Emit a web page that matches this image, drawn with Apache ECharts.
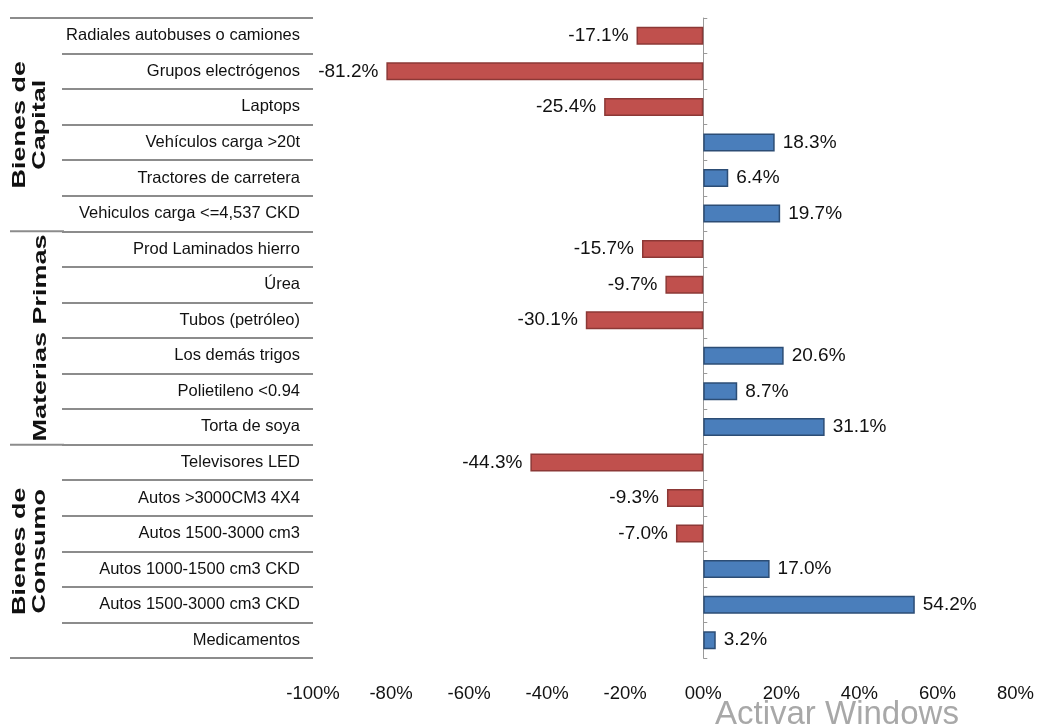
<!DOCTYPE html>
<html>
<head>
<meta charset="utf-8">
<script src="https://cdn.jsdelivr.net/npm/echarts@6/dist/echarts.min.js"></script>
<style>
  html, body { margin: 0; padding: 0; background: #ffffff; }
  #chart { width: 1037px; height: 724px; }
</style>
</head>
<body>
<div id="chart"></div>
<script>
// ---- Data ----
const categories = [
  'Radiales autobuses o camiones',
  'Grupos electrógenos',
  'Laptops',
  'Vehículos carga >20t',
  'Tractores de carretera',
  'Vehiculos carga <=4,537 CKD',
  'Prod Laminados hierro',
  'Úrea',
  'Tubos (petróleo)',
  'Los demás trigos',
  'Polietileno <0.94',
  'Torta de soya',
  'Televisores LED',
  'Autos >3000CM3 4X4',
  'Autos 1500-3000 cm3',
  'Autos 1000-1500 cm3 CKD',
  'Autos 1500-3000 cm3 CKD',
  'Medicamentos'
];
const values = [-17.1, -81.2, -25.4, 18.3, 6.4, 19.7, -15.7, -9.7, -30.1, 20.6, 8.7, 31.1, -44.3, -9.3, -7.0, 17.0, 54.2, 3.2];
const groupNames = [['Bienes de', 'Capital'], ['Materias Primas'], ['Bienes de', 'Consumo']];
const groupSizes = [6, 6, 6];
const xTicks = { min: -100, max: 80, step: 20 };

// ---- Styles ----
const FONT = "'Liberation Sans', Arial, sans-serif";
const RED = '#c0504d', RED_B = '#8c3836';
const BLUE = '#4a7ebb', BLUE_B = '#2c4d75';
const LINE = '#8c8c8c';

const chart = echarts.init(document.getElementById('chart'));

const seriesData = values.map(v => ({
  value: v,
  itemStyle: { color: v < 0 ? RED : BLUE, borderColor: v < 0 ? RED_B : BLUE_B },
  label: { position: v < 0 ? 'left' : 'right' }
}));

chart.setOption({
  animation: false,
  backgroundColor: '#ffffff',
  grid: { left: 313, right: 20, top: 18, bottom: 66, containLabel: false },
  xAxis: {
    type: 'value',
    min: xTicks.min, max: xTicks.max, interval: xTicks.step,
    axisLine: { show: false },
    axisTick: { show: false },
    splitLine: { show: false },
    axisLabel: {
      margin: 26,
      fontFamily: FONT, fontSize: 18.5, color: '#111',
      formatter: v => (v === 0 ? '00%' : v + '%')
    }
  },
  yAxis: [
    {
      type: 'category',
      data: categories,
      inverse: true,
      position: 'left',
      axisLine: { show: false, onZero: false },
      axisTick: { show: true, length: 251, lineStyle: { color: LINE, width: 2 } },
      axisLabel: { margin: 13, fontFamily: FONT, fontSize: 16.5, color: '#111', interval: 0 }
    },
    {
      type: 'category',
      data: categories,
      inverse: true,
      position: 'right',
      axisLine: { show: true, onZero: true, lineStyle: { color: '#9a9a9a', width: 1 } },
      axisTick: { show: true, length: 4, lineStyle: { color: '#9a9a9a' } },
      axisLabel: { show: false }
    }
  ],
  series: [{
    type: 'bar',
    yAxisIndex: 0,
    barWidth: 18,
    data: seriesData,
    itemStyle: { borderWidth: 1.5 },
    label: {
      show: true,
      distance: 8,
      fontFamily: FONT, fontSize: 19, color: '#111',
      formatter: p => p.value.toFixed(1) + '%'
    }
  }]
});

// ---- Group separators and labels (positions from the category axis) ----
function drawGroups() {
  const y0 = chart.convertToPixel({ yAxisIndex: 0 }, categories[0]);
  const y1 = chart.convertToPixel({ yAxisIndex: 0 }, categories[1]);
  const band = y1 - y0;
  const elements = [];
  let start = 0;
  const bounds = [y0 - band / 2];
  groupSizes.forEach((n, gi) => {
    const last = chart.convertToPixel({ yAxisIndex: 0 }, categories[start + n - 1]);
    const top = chart.convertToPixel({ yAxisIndex: 0 }, categories[start]) - band / 2;
    const bottom = last + band / 2;
    bounds.push(bottom);
    const cy = (top + bottom) / 2;
    const lines = groupNames[gi];
    lines.forEach((txt, li) => {
      const cx = lines.length === 1 ? 41 : 20 + li * 20;
      elements.push({
        type: 'text',
        x: cx, y: cy,
        rotation: Math.PI / 2,
        scaleX: 1.5,
        style: {
          text: txt,
          fontFamily: FONT,
          fontSize: 18, fontWeight: 'bold',
          fill: '#111',
          align: 'center', verticalAlign: 'middle'
        }
      });
    });
    start += n;
  });
  bounds.forEach(by => {
    elements.push({
      type: 'line',
      shape: { x1: 10, y1: by, x2: 64, y2: by },
      style: { stroke: LINE, lineWidth: 2 }
    });
  });
  elements.push({
    type: 'text',
    x: 715, y: 698,
    style: {
      text: 'Activar Windows',
      fontFamily: FONT,
      fontSize: 33,
      fill: '#a8a8a8',
      align: 'left', verticalAlign: 'top'
    }
  });
  chart.setOption({ graphic: { elements } });
}
drawGroups();
</script>
</body>
</html>
